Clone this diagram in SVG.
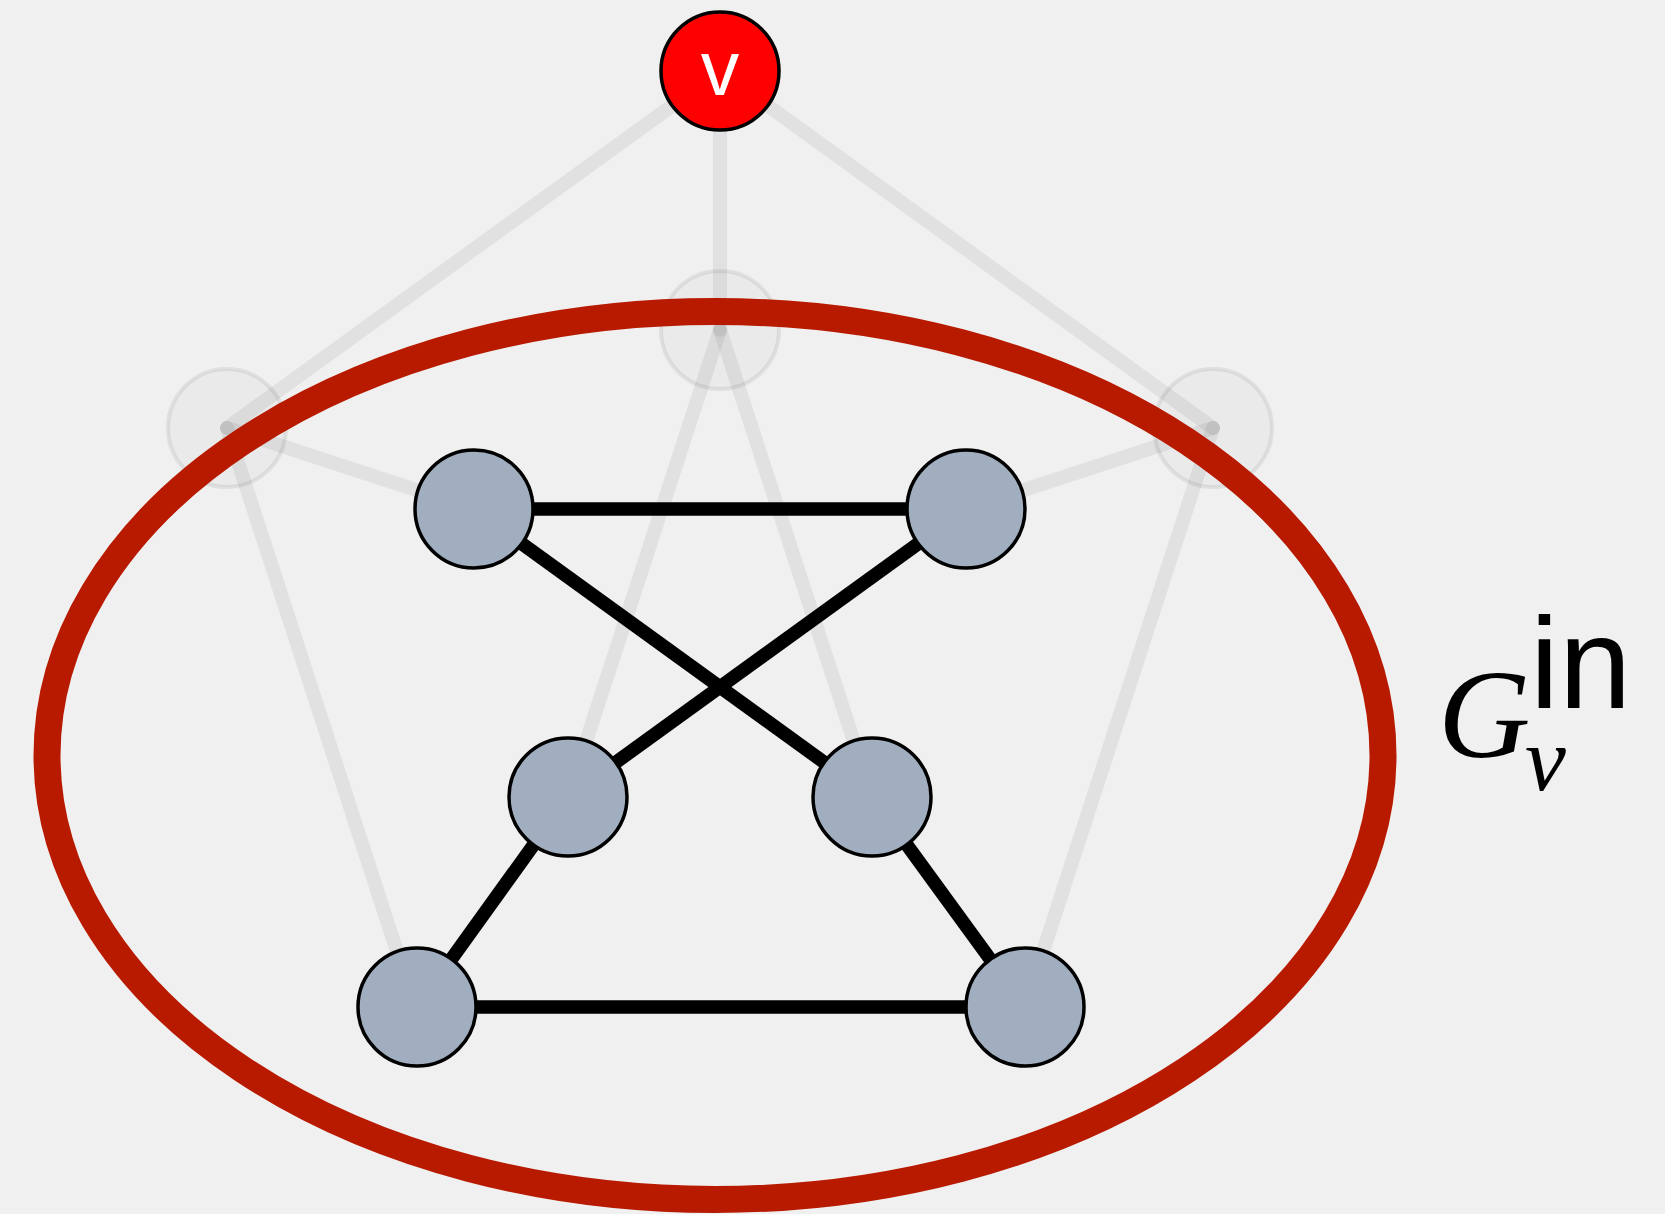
<svg xmlns="http://www.w3.org/2000/svg" width="1665" height="1214" viewBox="0 0 1665 1214">
  <style>
    .faded-edge { stroke: #000; stroke-opacity: 0.06; stroke-width: 14; stroke-linecap: round; fill: none; }
    .faded-node { fill: #000; fill-opacity: 0.025; stroke: #000; stroke-opacity: 0.07; stroke-width: 4; }
    .edge { stroke: #000; stroke-width: 13.5; fill: none; }
    .node { fill: #a1aebf; stroke: #000; stroke-width: 3.5; }
    .root { fill: #ff0000; stroke: #000; stroke-width: 3.5; }
    .root-label { fill: #fff; font-family: "Liberation Sans", Arial, sans-serif; font-size: 77px; text-anchor: middle; }
    .hull { fill: none; stroke: #b81a00; stroke-width: 27; }
    .math { font-family: "Liberation Serif", "Times New Roman", serif; font-style: italic; }
    .sup { font-family: "Liberation Sans", Arial, sans-serif; }
  </style>
  <rect width="1665" height="1214" fill="#f0f0f0"/>

  <!-- edges of the removed part of the graph, drawn faint -->
  <g id="faded-connectors">
    <line class="faded-edge" x1="720" y1="71" x2="720" y2="330"/>
    <line class="faded-edge" x1="720" y1="71" x2="227" y2="428"/>
    <line class="faded-edge" x1="720" y1="71" x2="1213" y2="428"/>
    <line class="faded-edge" x1="720" y1="330" x2="568" y2="797"/>
    <line class="faded-edge" x1="720" y1="330" x2="872" y2="797"/>
    <line class="faded-edge" x1="227" y1="428" x2="474" y2="509"/>
    <line class="faded-edge" x1="227" y1="428" x2="415" y2="1007"/>
    <line class="faded-edge" x1="1213" y1="428" x2="966" y2="509"/>
    <line class="faded-edge" x1="1213" y1="428" x2="1025" y2="1007"/>
  </g>

  <g id="faded-n1"><circle class="faded-node" cx="720" cy="330" r="59"/></g>
  <g id="faded-n2"><circle class="faded-node" cx="227" cy="428" r="59"/></g>
  <g id="faded-n3"><circle class="faded-node" cx="1213" cy="428" r="59"/></g>

  <!-- edges of the remaining subgraph -->
  <g id="connectors">
    <line class="edge" x1="474" y1="509" x2="966" y2="509"/>
    <line class="edge" x1="474" y1="509" x2="872" y2="797"/>
    <line class="edge" x1="966" y1="509" x2="568" y2="797"/>
    <line class="edge" x1="568" y1="797" x2="417" y2="1007"/>
    <line class="edge" x1="872" y1="797" x2="1025" y2="1007"/>
    <line class="edge" x1="417" y1="1007" x2="1025" y2="1007"/>
  </g>

  <g id="n-a"><circle class="node" cx="474" cy="509" r="59"/></g>
  <g id="n-b"><circle class="node" cx="966" cy="509" r="59"/></g>
  <g id="n-c"><circle class="node" cx="568" cy="797" r="59"/></g>
  <g id="n-d"><circle class="node" cx="872" cy="797" r="59"/></g>
  <g id="n-e"><circle class="node" cx="417" cy="1007" r="59"/></g>
  <g id="n-f"><circle class="node" cx="1025" cy="1007" r="59"/></g>

  <g id="n-v">
    <circle class="root" cx="720" cy="71" r="59"/>
    <text class="root-label" x="720" y="95">v</text>
  </g>

  <!-- enclosing region and its label -->
  <g id="region">
    <ellipse class="hull" cx="715" cy="755.5" rx="668" ry="444"/>
    <text x="1438" y="757" font-size="128" class="math">G</text>
    <text x="1530" y="708" font-size="130" class="sup">in</text>
    <text x="1525" y="790" font-size="92" class="math">v</text>
  </g>
</svg>
